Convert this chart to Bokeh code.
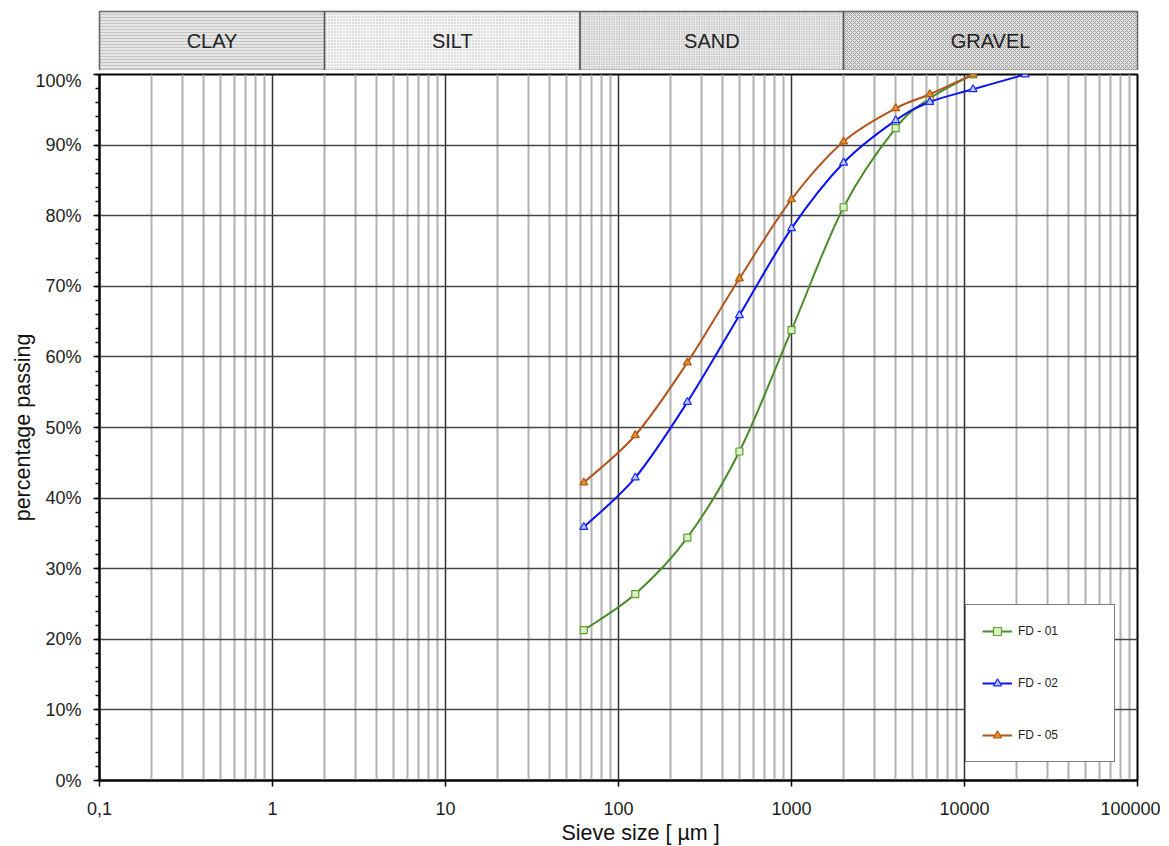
import numpy as np
from bokeh.plotting import figure
from bokeh.layouts import column
from bokeh.models import (Range1d, FixedTicker, PrintfTickFormatter, CustomJSTickFormatter,
                          Legend, LegendItem, ColumnDataSource, Title)
from bokeh.core.properties import value
from bokeh.embed import file_html
from bokeh.resources import INLINE

# ---------------- data ----------------
sieve_sizes = [63, 125, 250, 500, 1000, 2000, 4000, 6300, 11200, 22400]
fd01 = [21.3, 26.4, 34.4, 46.6, 63.8, 81.2, 92.4, 96.6, 100.0]
fd02 = [35.9, 42.9, 53.6, 65.9, 78.2, 87.5, 93.5, 96.1, 97.9, 100.0]
fd05 = [42.2, 48.9, 59.2, 71.1, 82.3, 90.5, 95.2, 97.2, 100.0]
series_names = ["FD - 01", "FD - 02", "FD - 05"]

band_names = ["CLAY", "SILT", "SAND", "GRAVEL"]
band_edges = [0.1, 2, 60, 2000, 100000]

x_tick_values = [0.1, 1.0, 10.0, 100.0, 1000.0, 10000.0, 100000.0]
x_tick_labels = ["0,1", "1", "10", "100", "1000", "10000", "100000"]
y_tick_values = list(range(0, 101, 10))
y_minor_values = list(range(0, 101, 2))

FONT = "Liberation Sans"

# ---------------- band figure ----------------
band = figure(width=1160, height=70, x_axis_type="log",
              x_range=Range1d(band_edges[0], band_edges[-1]), y_range=Range1d(0, 1),
              x_axis_location=None, y_axis_location=None,
              min_border_left=95, min_border_right=19, min_border_top=11, min_border_bottom=0,
              toolbar_location=None, output_backend="svg")
band.xgrid.visible = False
band.ygrid.visible = False
band.outline_line_color = "#555555"
band.outline_line_width = 1.5

band_src = ColumnDataSource(dict(
    left=band_edges[:-1], right=band_edges[1:],
    fill=["#e6e6e6", "#f4f4f4", "#ebebeb", "#e2e2e2"],
    hatch=["horizontal_line", "dot", "dot", "diagonal_cross"],
    hcolor=["#c4c4c4", "#bdbdbd", "#959595", "#9c9c9c"],
    hscale=[3.0, 3.0, 2.5, 4.0],
    hweight=[1.0, 1.0, 1.0, 1.0],
))
band.quad(left="left", right="right", bottom=0, top=1, source=band_src,
          fill_color="fill", hatch_pattern="hatch", hatch_color="hcolor",
          hatch_scale="hscale", hatch_weight="hweight",
          line_color="#555555", line_width=1.5)
centers = [float(np.sqrt(a * b)) for a, b in zip(band_edges[:-1], band_edges[1:])]
band.text(x=centers, y=[0.5] * len(centers), text=band_names,
          text_align="center", text_baseline="middle",
          text_font=value(FONT), text_font_size="20px", text_color="#222222")

# ---------------- main figure ----------------
p = figure(width=1160, height=776, x_axis_type="log",
           x_range=Range1d(x_tick_values[0], x_tick_values[-1]), y_range=Range1d(0, 100),
           min_border_left=99, min_border_right=23, min_border_top=4, min_border_bottom=65,
           toolbar_location=None, output_backend="svg")
p.background_fill_color = "white"
p.outline_line_color = "black"
p.outline_line_width = 2

x_minor = [m * 10.0 ** e for e in range(-1, 5) for m in range(2, 10)]
xticker = FixedTicker(ticks=x_tick_values, minor_ticks=x_minor)
p.xaxis.ticker = xticker
p.xgrid.ticker = xticker
p.xaxis.formatter = CustomJSTickFormatter(
    args=dict(vals=x_tick_values, labs=x_tick_labels),
    code="""
    for (let i = 0; i < vals.length; i++) {
      if (Math.abs(Math.log10(vals[i]) - Math.log10(tick)) < 1e-6) return labs[i];
    }
    return "";
    """)
yticker = FixedTicker(ticks=y_tick_values, minor_ticks=y_minor_values)
p.yaxis.ticker = yticker
p.ygrid.ticker = yticker
p.yaxis.formatter = PrintfTickFormatter(format="%d%%")

p.xgrid.grid_line_color = "#333333"
p.xgrid.grid_line_width = 1.5
p.xgrid.minor_grid_line_color = "#b0b0b0"
p.xgrid.minor_grid_line_width = 2
p.ygrid.grid_line_color = "#444444"
p.ygrid.grid_line_width = 1.5

for ax in (p.xaxis, p.yaxis):
    ax.axis_line_color = "black"
    ax.axis_line_width = 2
    ax.major_tick_line_color = "black"
    ax.major_tick_line_width = 1.5
    ax.major_tick_in = 0
    ax.major_tick_out = 6
    ax.major_label_text_font = FONT
    ax.major_label_text_font_size = "18px"
    ax.major_label_text_color = "#222222"
    ax.axis_label_text_font = FONT
    ax.axis_label_text_font_size = "21.5px"
    ax.axis_label_text_font_style = "normal"
    ax.axis_label_text_color = "#111111"

p.xaxis.minor_tick_in = 0
p.xaxis.minor_tick_out = 0
p.yaxis.minor_tick_in = 0
p.yaxis.minor_tick_out = 4
p.yaxis.minor_tick_line_color = "black"
p.yaxis.minor_tick_line_width = 1.5

p.yaxis.axis_label = "percentage passing"
p.xaxis.major_label_standoff = 15
p.yaxis.major_label_standoff = 12
p.yaxis.axis_label_standoff = -3

# x-axis title placed as a below-title so it can sit slightly right of centre, like the reference
xtitle = Title(text="Sieve size [ µm ]", align="left", offset=462,
               text_font=FONT, text_font_size="21.5px", text_font_style="normal",
               text_color="#111111", standoff=3)
p.add_layout(xtitle, "below")


def smooth_segments(xs, ys):
    """Catmull-Rom style bezier control points (in log-x space)."""
    lx = np.log10(np.asarray(xs, dtype=float))
    yy = np.asarray(ys, dtype=float)
    qx = np.concatenate([[lx[0]], lx, [lx[-1]]])
    qy = np.concatenate([[yy[0]], yy, [yy[-1]]])
    n = len(lx)
    i = np.arange(n - 1)
    cx0 = qx[i + 1] + (qx[i + 2] - qx[i]) / 6.0
    cy0 = qy[i + 1] + (qy[i + 2] - qy[i]) / 6.0
    cx1 = qx[i + 2] - (qx[i + 3] - qx[i + 1]) / 6.0
    cy1 = qy[i + 2] - (qy[i + 3] - qy[i + 1]) / 6.0
    return dict(x0=10 ** lx[:-1], y0=yy[:-1], x1=10 ** lx[1:], y1=yy[1:],
                cx0=10 ** cx0, cy0=cy0, cx1=10 ** cx1, cy1=cy1)


series = [
    (fd01, "#4a8c2a", "square", 7, "#5aa02c", "#dcf0c8"),
    (fd02, "#0a14f0", "triangle", 8, "#1a2aff", "#b8c8ff"),
    (fd05, "#b3541e", "triangle", 8, "#b05a1a", "#e8901e"),
]
items = []
for (vals, lcol, marker, msize, mline, mfill), name in zip(series, series_names):
    xs = sieve_sizes[:len(vals)]
    seg = ColumnDataSource(smooth_segments(xs, vals))
    br = p.bezier(x0="x0", y0="y0", x1="x1", y1="y1", cx0="cx0", cy0="cy0",
                  cx1="cx1", cy1="cy1", source=seg, line_color=lcol, line_width=2)
    sr = p.scatter(x=xs, y=vals, marker=marker, size=msize, line_color=mline,
                   fill_color=mfill, line_width=1.2)
    items.append(LegendItem(label=name, renderers=[br, sr]))

legend = Legend(items=items, location=(866, 18), orientation="vertical",
                padding=16, spacing=32, glyph_width=30, glyph_height=20,
                label_height=20, label_width=80, label_standoff=6,
                label_text_font=FONT, label_text_font_size="12px",
                label_text_color="#222222",
                border_line_color="black", border_line_width=1,
                background_fill_color="white", background_fill_alpha=1.0)
p.add_layout(legend, "center")

layout = column(band, p, spacing=0)
open("out.html", "w").write(file_html(layout, INLINE))
